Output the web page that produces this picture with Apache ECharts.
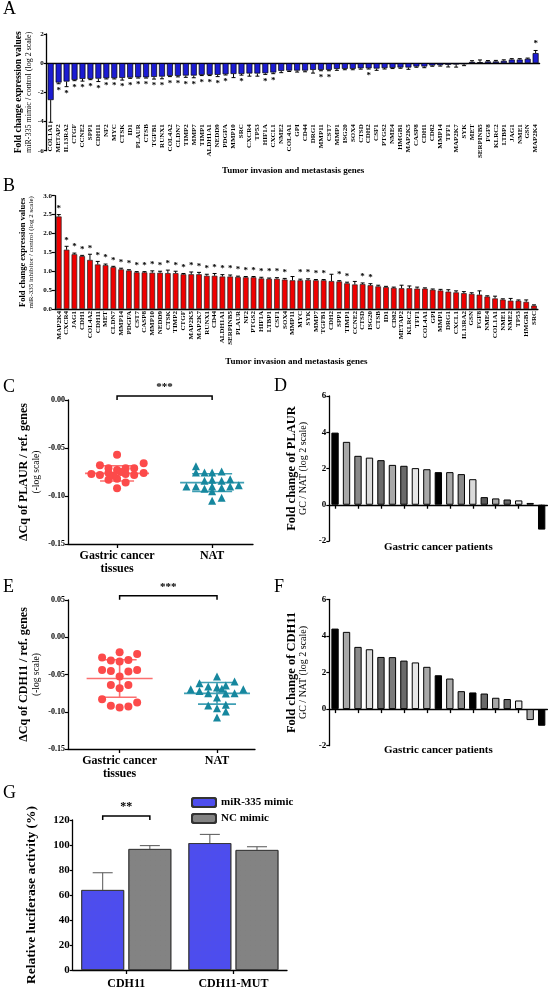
<!DOCTYPE html>
<html><head><meta charset="utf-8">
<script src="https://cdn.jsdelivr.net/npm/echarts@6/dist/echarts.min.js"></script>
<style>html,body{margin:0;padding:0;background:#fff}#c{width:550px;height:989px}</style>
</head><body><div id="c"></div>
<script>
// ---------- Panel A ----------
const genesA = ['COL1A1','METAP2','IL13RA2','CTGF','CCNE2','SPP1','CDH11','NF2','MYC','CTSK','ID1','PLAUR','CTSB','TGFB1','RUNX1','COL4A2','CLDN7','TIMP2','MMP7','TIMP1','ALDH1A1','NEDD9','PDGFA','MMP10','SRC','CXCR4','TP53','HIF1A','CXCL1','NME2','COL4A1','GPI','CD44','DRG1','MMP11','CST7','MMP1','ISG20','SOX4','CTSD','CDH2','CSF1','PTGS2','NME4','HMGB1','MAP2K5','CASP8','CDH1','CD82','MMP14','TFF1','MAP2K7','SYK','MET','SERPINB5','FGF8','KLRC2','LTBP1','JAG1','NME1','GSN','MAP2K4'];
const valuesA = [-2.53,-1.33,-1.26,-1.15,-1.08,-1.08,-1.06,-1.03,-1.03,-1.01,-0.99,-0.97,-0.97,-0.94,-0.92,-0.87,-0.87,-0.85,-0.85,-0.80,-0.80,-0.80,-0.76,-0.74,-0.74,-0.71,-0.71,-0.69,-0.64,-0.53,-0.51,-0.51,-0.51,-0.46,-0.46,-0.46,-0.39,-0.39,-0.39,-0.35,-0.35,-0.37,-0.34,-0.32,-0.30,-0.30,-0.23,-0.23,-0.16,-0.14,-0.11,-0.09,-0.07,0.09,0.07,0.12,0.12,0.16,0.25,0.25,0.30,0.69];
const errorsA = [1.52,0.08,0.35,0.05,0.15,0.05,0.20,0.05,0.05,0.15,0.05,0.05,0.05,0.15,0.15,0.05,0.07,0.12,0.15,0.05,0.05,0.12,0.05,0.25,0.08,0.18,0.18,0.08,0.08,0.12,0.06,0.10,0.08,0.22,0.06,0.06,0.10,0.06,0.06,0.06,0.05,0.12,0.06,0.05,0.05,0.12,0.05,0.08,0.05,0.06,0.15,0.18,0.10,0.08,0.15,0.06,0.07,0.07,0.06,0.06,0.05,0.18];
const starsA = [0,1,1,1,1,1,1,1,1,1,1,1,1,1,1,1,1,1,1,1,1,1,1,0,1,0,0,1,1,0,0,0,0,0,1,1,0,0,0,0,1,0,0,0,0,0,0,0,0,0,0,0,0,0,0,0,0,0,0,0,0,1];

// ---------- Panel B ----------
const genesB = ['MAP2K4','CXCR4','JAG1','CDH1','COL4A2','CDH11','MET','CLDN7','MMP14','PDGFA','CST7','CASP8','MMP10','NEDD9','CTSK','TIMP2','CTGF','MAP2K5','MAP2K7','RUNX1','CD44','ALDH1A1','SERPINB5','PLAUR','NF2','PTGS2','HIF1A','LTBP1','CSF1','SOX4','MMP11','MYC','SYK','MMP7','TGFB1','CDH2','SPP1','TIMP1','CCNE2','CTSD','ISG20','CTSB','ID1','CD82','METAP2','KLRC2','TFF1','COL4A1','GPI','MMP1','DRG1','CXCL1','IL13RA2','GSN','FGF8','NME4','COL1A1','NME1','NME2','TP53','HMGB1','SRC'];
const valuesB = [2.45,1.57,1.45,1.40,1.30,1.18,1.16,1.11,1.05,1.02,0.97,0.97,0.96,0.96,0.95,0.95,0.92,0.92,0.92,0.88,0.88,0.86,0.86,0.85,0.84,0.84,0.81,0.80,0.80,0.78,0.76,0.76,0.77,0.76,0.76,0.74,0.73,0.68,0.65,0.66,0.63,0.60,0.58,0.56,0.55,0.55,0.54,0.54,0.51,0.49,0.46,0.44,0.42,0.40,0.38,0.33,0.28,0.25,0.22,0.22,0.19,0.09];
const errorsB = [0.05,0.09,0.03,0.02,0.15,0.08,0.03,0.02,0.03,0.02,0.02,0.02,0.05,0.04,0.08,0.05,0.02,0.06,0.05,0.04,0.06,0.05,0.04,0.02,0.02,0.02,0.03,0.02,0.03,0.03,0.10,0.03,0.03,0.02,0.02,0.18,0.02,0.03,0.08,0.03,0.04,0.03,0.02,0.02,0.08,0.06,0.04,0.02,0.02,0.03,0.05,0.04,0.04,0.03,0.10,0.02,0.06,0.02,0.06,0.02,0.05,0.02];
const starsB = [1,1,1,1,1,1,1,1,1,1,1,1,1,1,1,1,1,1,1,1,1,1,1,1,1,1,1,1,1,1,0,1,1,1,1,0,1,1,0,1,1,0,0,0,0,0,0,0,0,0,0,0,0,0,0,0,0,0,0,0,0,0];

// ---------- Panel C (PLAUR dCq) ----------
const groupCats = ['Gastric cancer\ntissues', 'NAT'];
const gcPLAUR = [[1.00,-0.057],[0.82,-0.068],[1.28,-0.066],[0.91,-0.071],[1.09,-0.071],[1.18,-0.071],[1.00,-0.073],[0.73,-0.077],[0.82,-0.078],[0.91,-0.076],[1.09,-0.077],[1.18,-0.078],[1.28,-0.076],[0.91,-0.083],[1.00,-0.082],[1.09,-0.086],[1.00,-0.092],[0.96,-0.079],[1.04,-0.075]];
const natPLAUR = [[1.83,-0.069],[1.83,-0.0755],[1.92,-0.0755],[2.00,-0.0755],[2.10,-0.0745],[1.92,-0.084],[2.00,-0.083],[2.10,-0.084],[2.19,-0.0826],[1.73,-0.090],[1.83,-0.090],[1.92,-0.0924],[2.00,-0.090],[2.10,-0.0913],[2.19,-0.090],[2.28,-0.0889],[2.00,-0.0951],[2.00,-0.1049],[2.10,-0.1017]];
const statsPLAUR = [[1, -0.0764, 0.0079], [2, -0.0861, 0.0092]]; // [group, mean, sd]
const sigC = [[1, 2, 0.0042]];
const sigCLabel = ['***'];

// ---------- Panel D (PLAUR fold change per patient) ----------
const patientsD = ['1','2','3','4','5','6','7','8','9','10','11','12','13','14','15','16','17','18','19'];
const valuesD = [3.98,3.47,2.70,2.60,2.46,2.20,2.15,2.02,1.96,1.80,1.80,1.69,1.41,0.42,0.35,0.29,0.24,0.10,-1.37];

// ---------- Panel E (CDH11 dCq) ----------
const gcCDH11 = [[1.00,-0.0201],[1.18,-0.0224],[0.82,-0.0273],[0.91,-0.0313],[1.00,-0.0327],[1.09,-0.0304],[0.82,-0.0438],[0.91,-0.0452],[1.09,-0.046],[1.18,-0.0438],[1.00,-0.0528],[0.91,-0.064],[1.09,-0.064],[1.00,-0.0684],[0.82,-0.0831],[1.18,-0.0876],[0.91,-0.0921],[1.00,-0.0943],[1.09,-0.093]];
const natCDH11 = [[2.00,-0.0528],[1.82,-0.0617],[2.18,-0.0595],[1.73,-0.0697],[1.91,-0.0662],[2.00,-0.0675],[2.05,-0.069],[2.09,-0.0649],[2.27,-0.0697],[1.82,-0.072],[1.91,-0.0751],[2.09,-0.0755],[2.18,-0.0751],[2.00,-0.081],[1.91,-0.0917],[2.09,-0.0907],[2.00,-0.0952],[2.09,-0.0997],[2.00,-0.1078]];
const statsCDH11 = [[1, -0.0554, 0.0252], [2, -0.0753, 0.0145]];
const sigE = [[1, 2, 0.0556]];
const sigELabel = ['***'];

// ---------- Panel F (CDH11 fold change per patient) ----------
const patientsF = ['1','2','3','4','5','6','7','8','9','10','11','12','13','14','15','16','17','18','19'];
const valuesF = [4.40,4.22,3.40,3.27,2.85,2.84,2.65,2.55,2.31,1.85,1.67,0.98,0.91,0.85,0.62,0.55,0.47,-0.60,-0.91];

// ---------- Panel G (luciferase) ----------
const constructsG = ['CDH11', 'CDH11-MUT'];
const mimicG = [64.0, 101.5];
const mimicErrG = [13.8, 7.0];
const ncG = [96.8, 96.0];
const ncErrG = [2.7, 2.6];
const sigG = [[0, 123.2]];
const sigGLabel = ['**'];

// ---------- styles ----------
const SERIF = '"Liberation Serif","DejaVu Serif",serif';
const shadesD = ['#000','#a8a8a8','#8a8a8a','#dadada','#6a6a6a','#a8a8a8','#6a6a6a','#e6e6e6','#a8a8a8','#000','#a8a8a8','#8a8a8a','#dadada','#5a5a5a','#a8a8a8','#6a6a6a','#e6e6e6','#a8a8a8','#000'];
const shadesF = ['#000','#a8a8a8','#8a8a8a','#dadada','#6a6a6a','#7a7a7a','#6a6a6a','#e6e6e6','#a8a8a8','#000','#a8a8a8','#8a8a8a','#000','#6a6a6a','#a8a8a8','#6a6a6a','#e6e6e6','#a8a8a8','#000'];

const chart = echarts.init(document.getElementById('c'), null, {renderer: 'canvas'});

const axLine = {lineStyle: {color: '#000', width: 1.3}};
function yAxis(grid, min, max, interval, fs, name, gap, rich, fmt) {
  return {
    type: 'value', gridIndex: grid, min, max, interval,
    axisLine: {show: true, onZero: false, ...axLine},
    axisTick: {show: true, length: 3, lineStyle: {color: '#000', width: 1.2}},
    splitLine: {show: false},
    axisLabel: {fontFamily: SERIF, fontWeight: 'bold', fontSize: fs, color: '#000', margin: 3, formatter: fmt},
    name, nameLocation: 'middle', nameRotate: 90, nameGap: gap, nameMoveOverlap: false,
    nameTextStyle: {fontFamily: SERIF, color: '#000', rich, align: 'center'}
  };
}

function errBar(cap, color, offsetFrac) {
  return function (params, api) {
    const x = api.value(0), v = api.value(1), e = api.value(2);
    const end = v >= 0 ? v + e : v - e;
    const off = offsetFrac ? api.size([1, 0])[0] * offsetFrac : 0;
    const p0 = api.coord([x, v]), p1 = api.coord([x, end]);
    return {type: 'group', children: [
      {type: 'line', shape: {x1: p0[0] + off, y1: p0[1], x2: p1[0] + off, y2: p1[1]}, style: {stroke: color, lineWidth: 1}},
      {type: 'line', shape: {x1: p1[0] + off - cap, y1: p1[1], x2: p1[0] + off + cap, y2: p1[1]}, style: {stroke: color, lineWidth: 1}}
    ]};
  };
}
function starItem(dist, fs) {
  return function (params, api) {
    const x = api.value(0), v = api.value(1), e = api.value(2);
    const end = v >= 0 ? v + e : v - e;
    const p = api.coord([x, end]);
    const dir = v >= 0 ? -1 : 1;
    return {type: 'text', x: p[0], y: p[1] + dir * dist,
      style: {text: '*', fill: '#000', font: 'bold ' + fs + 'px ' + SERIF, align: 'center', verticalAlign: 'middle'}};
  };
}
function meanSd(halfMean, halfSd, color) {
  return function (params, api) {
    const x = api.value(0), m = api.value(1), s = api.value(2);
    const pm = api.coord([x, m]), pt = api.coord([x, m + s]), pb = api.coord([x, m - s]);
    const st = {stroke: color, lineWidth: 1.6};
    return {type: 'group', children: [
      {type: 'line', shape: {x1: pm[0] - halfMean, y1: pm[1], x2: pm[0] + halfMean, y2: pm[1]}, style: st},
      {type: 'line', shape: {x1: pt[0] - halfSd, y1: pt[1], x2: pt[0] + halfSd, y2: pt[1]}, style: st},
      {type: 'line', shape: {x1: pb[0] - halfSd, y1: pb[1], x2: pb[0] + halfSd, y2: pb[1]}, style: st},
      {type: 'line', shape: {x1: pt[0], y1: pt[1], x2: pb[0], y2: pb[1]}, style: st}
    ]};
  };
}
function bracket(labels, fs, halfFrac) {
  return function (params, api) {
    let a, b;
    if (halfFrac) {
      const c = api.coord([api.value(0), api.value(1)]);
      const h = api.size([1, 0])[0] * halfFrac;
      a = [c[0] - h, c[1]]; b = [c[0] + h, c[1]];
    } else {
      a = api.coord([api.value(0), api.value(2)]);
      b = api.coord([api.value(1), api.value(2)]);
    }
    return {type: 'group', children: [
      {type: 'polyline', shape: {points: [[a[0], a[1] + 4], a, b, [b[0], b[1] + 4]]}, style: {stroke: '#000', lineWidth: 1.5, fill: null}},
      {type: 'text', x: (a[0] + b[0]) / 2, y: a[1] - 3,
        style: {text: labels[params.dataIndex], fill: '#000', font: 'bold ' + fs + 'px ' + SERIF, align: 'center', verticalAlign: 'bottom'}}
    ]};
  };
}

const idx = (arr, vals, errs) => arr.map((_, i) => [i, vals[i], errs[i]]);

const option = {
  animation: false,
  backgroundColor: '#fff',
  title: [
    ['A', 3, 0], ['B', 3, 177], ['C', 3, 378], ['D', 274, 377], ['E', 3, 578], ['F', 274, 578], ['G', 3, 784]
  ].map(t => ({text: t[0], left: t[1], top: t[2], padding: 0, textStyle: {fontFamily: SERIF, fontWeight: 'normal', fontSize: 18, color: '#000'}})),
  legend: {
    data: ['miR-335 mimic', 'NC mimic'], orient: 'vertical', left: 191, top: 797, itemWidth: 24, itemHeight: 9, itemGap: 5, padding: 0,
    textStyle: {fontFamily: SERIF, fontWeight: 'bold', fontSize: 11, color: '#000'}
  },
  grid: [
    {left: 46.7, right: 10.4, top: 34, height: 116.7},
    {left: 54.9, right: 12.1, top: 195.7, height: 113.3},
    {left: 68, width: 185, top: 400, height: 144},
    {left: 329.3, right: 2.6, top: 396, height: 145},
    {left: 68, width: 187, top: 600, height: 149},
    {left: 329.3, right: 2.6, top: 599.3, height: 146.4},
    {left: 72.7, width: 214.3, top: 820, height: 150}
  ].map(g => ({...g, containLabel: false, outerBoundsMode: 'none'})),
  xAxis: [
    // A: zero line only
    {type: 'category', gridIndex: 0, data: genesA, axisLine: {onZero: true, ...axLine}, axisTick: {show: false}, axisLabel: {show: false}},
    {type: 'category', gridIndex: 1, data: genesB, axisLine: {onZero: true, ...axLine}, axisTick: {show: false},
      axisLabel: {interval: 0, rotate: 90, margin: 2, fontFamily: SERIF, fontWeight: 'bold', fontSize: 7, color: '#000'},
      name: 'Tumor invasion and metastasis genes', nameLocation: 'middle', nameGap: 48, nameMoveOverlap: false,
      nameTextStyle: {fontFamily: SERIF, fontWeight: 'bold', fontSize: 9, color: '#000'}},
    {type: 'value', gridIndex: 2, min: 0.484, max: 2.43, axisLine: {onZero: false, ...axLine}, splitLine: {show: false},
      axisTick: {show: true, customValues: [1, 2], length: 4, lineStyle: {color: '#000', width: 1.3}},
      axisLabel: {customValues: [1, 2], formatter: v => groupCats[Math.round(v) - 1], fontFamily: SERIF, fontWeight: 'bold', fontSize: 12, lineHeight: 13, color: '#000', margin: 5}},
    {type: 'category', gridIndex: 3, data: patientsD, axisLine: {onZero: true, ...axLine},
      axisTick: {show: true, alignWithLabel: true, length: 4, lineStyle: {color: '#000', width: 1.3}}, axisLabel: {show: false},
      name: 'Gastric cancer patients', nameLocation: 'middle', nameGap: 0.5, nameMoveOverlap: false,
      nameTextStyle: {fontFamily: SERIF, fontWeight: 'bold', fontSize: 11, color: '#000'}},
    {type: 'value', gridIndex: 4, min: 0.47, max: 2.39, axisLine: {onZero: false, ...axLine}, splitLine: {show: false},
      axisTick: {show: true, customValues: [1, 2], length: 4, lineStyle: {color: '#000', width: 1.3}},
      axisLabel: {customValues: [1, 2], formatter: v => groupCats[Math.round(v) - 1], fontFamily: SERIF, fontWeight: 'bold', fontSize: 12, lineHeight: 13, color: '#000', margin: 5}},
    {type: 'category', gridIndex: 5, data: patientsF, axisLine: {onZero: true, ...axLine},
      axisTick: {show: true, alignWithLabel: true, length: 4, lineStyle: {color: '#000', width: 1.3}}, axisLabel: {show: false},
      name: 'Gastric cancer patients', nameLocation: 'middle', nameGap: -1, nameMoveOverlap: false,
      nameTextStyle: {fontFamily: SERIF, fontWeight: 'bold', fontSize: 11, color: '#000'}},
    {type: 'category', gridIndex: 6, data: constructsG, axisLine: {onZero: false, ...axLine},
      axisTick: {show: true, alignWithLabel: true, length: 4, lineStyle: {color: '#000', width: 1.3}},
      axisLabel: {fontFamily: SERIF, fontWeight: 'bold', fontSize: 12, color: '#000', margin: 8}},
    // A: gene labels at the grid bottom, pulled up
    {type: 'category', gridIndex: 0, data: genesA, position: 'bottom', axisLine: {show: false, onZero: false}, axisTick: {show: false},
      axisLabel: {interval: 0, rotate: 90, margin: -26.5, fontFamily: SERIF, fontWeight: 'bold', fontSize: 7, color: '#000'},
      name: 'Tumor invasion and metastasis genes', nameLocation: 'middle', nameGap: 15, nameMoveOverlap: false,
      nameTextStyle: {fontFamily: SERIF, fontWeight: 'bold', fontSize: 9, color: '#000'}}
  ],
  yAxis: [
    yAxis(0, -6, 2, 2, 7, '{b|Fold change expression values}\n{n|miR-335 mimic / control (log 2 scale)}', 13,
      {b: {fontFamily: SERIF, fontWeight: 'bold', fontSize: 9.5, lineHeight: 10}, n: {fontFamily: SERIF, fontSize: 8, lineHeight: 10}}),
    yAxis(1, 0, 3, 0.5, 7, '{b|Fold change expression values}\n{n|miR-335 inhibitor / control (log 2 scale)}', 19,
      {b: {fontFamily: SERIF, fontWeight: 'bold', fontSize: 8.5, lineHeight: 9}, n: {fontFamily: SERIF, fontSize: 7, lineHeight: 9}}, v => v.toFixed(1)),
    yAxis(2, -0.15, 0, 0.05, 8, '{b|ΔCq of PLAUR / ref. genes}\n{n|(-log scale)}', 25,
      {b: {fontFamily: SERIF, fontWeight: 'bold', fontSize: 12, lineHeight: 13}, n: {fontFamily: SERIF, fontSize: 9.5, lineHeight: 13}}, v => v.toFixed(2)),
    yAxis(3, -2, 6, 2, 9, '{b|Fold change of PLAUR}\n{n|GC / NAT (log 2 scale)}', 20,
      {b: {fontFamily: SERIF, fontWeight: 'bold', fontSize: 12.5, lineHeight: 12}, n: {fontFamily: SERIF, fontSize: 10, lineHeight: 12}}),
    yAxis(4, -0.15, 0.05, 0.05, 8, '{b|ΔCq of CDH11 / ref. genes}\n{n|(-log scale)}', 25,
      {b: {fontFamily: SERIF, fontWeight: 'bold', fontSize: 12, lineHeight: 13}, n: {fontFamily: SERIF, fontSize: 9.5, lineHeight: 13}}, v => v.toFixed(2)),
    yAxis(5, -2, 6, 2, 9, '{b|Fold change of CDH11}\n{n|GC / NAT (log 2 scale)}', 20,
      {b: {fontFamily: SERIF, fontWeight: 'bold', fontSize: 12.5, lineHeight: 12}, n: {fontFamily: SERIF, fontSize: 10, lineHeight: 12}}),
    yAxis(6, 0, 120, 20, 11, '{b|Relative luciferase activity (%)}', 34,
      {b: {fontFamily: SERIF, fontWeight: 'bold', fontSize: 13.5, lineHeight: 14}})
  ],
  series: [
    // A
    {type: 'bar', xAxisIndex: 0, yAxisIndex: 0, data: valuesA, barWidth: '75%',
      itemStyle: {color: '#1c1cd2', borderColor: '#000', borderWidth: 0.7}},
    {type: 'custom', xAxisIndex: 0, yAxisIndex: 0, renderItem: errBar(2, '#000'), data: idx(genesA, valuesA, errorsA), clip: false, z: 3},
    {type: 'custom', xAxisIndex: 0, yAxisIndex: 0, renderItem: starItem(7, 9),
      data: idx(genesA, valuesA, errorsA).filter((d, i) => starsA[i]), clip: false, z: 3},
    // B
    {type: 'bar', xAxisIndex: 1, yAxisIndex: 1, data: valuesB, barWidth: '72%',
      itemStyle: {color: '#f00000', borderColor: '#222', borderWidth: 0.7}},
    {type: 'custom', xAxisIndex: 1, yAxisIndex: 1, renderItem: errBar(2, '#000'), data: idx(genesB, valuesB, errorsB), clip: false, z: 3},
    {type: 'custom', xAxisIndex: 1, yAxisIndex: 1, renderItem: starItem(6, 9),
      data: idx(genesB, valuesB, errorsB).filter((d, i) => starsB[i]), clip: false, z: 3},
    // C
    {type: 'custom', xAxisIndex: 2, yAxisIndex: 2, renderItem: meanSd(32, 17, '#fb6f6f'), data: [statsPLAUR[0]], z: 1},
    {type: 'custom', xAxisIndex: 2, yAxisIndex: 2, renderItem: meanSd(32, 20, '#3f9fb4'), data: [statsPLAUR[1]], z: 1},
    {type: 'scatter', xAxisIndex: 2, yAxisIndex: 2, data: gcPLAUR, symbol: 'circle', symbolSize: 8, itemStyle: {color: '#fc4a4a', opacity: 1}, z: 2},
    {type: 'scatter', xAxisIndex: 2, yAxisIndex: 2, data: natPLAUR, symbol: 'triangle', symbolSize: 8, itemStyle: {color: '#16879e', opacity: 1}, z: 2},
    {type: 'custom', xAxisIndex: 2, yAxisIndex: 2, renderItem: bracket(sigCLabel, 11), data: sigC, clip: false},
    // D
    {type: 'bar', xAxisIndex: 3, yAxisIndex: 3, barWidth: '64%',
      data: valuesD.map((v, i) => ({value: v, itemStyle: {color: shadesD[i]}})), itemStyle: {borderColor: '#000', borderWidth: 1}},
    // E
    {type: 'custom', xAxisIndex: 4, yAxisIndex: 4, renderItem: meanSd(33, 17, '#fb6f6f'), data: [statsCDH11[0]], z: 1},
    {type: 'custom', xAxisIndex: 4, yAxisIndex: 4, renderItem: meanSd(33, 19, '#3f9fb4'), data: [statsCDH11[1]], z: 1},
    {type: 'scatter', xAxisIndex: 4, yAxisIndex: 4, data: gcCDH11, symbol: 'circle', symbolSize: 8, itemStyle: {color: '#fc4a4a', opacity: 1}, z: 2},
    {type: 'scatter', xAxisIndex: 4, yAxisIndex: 4, data: natCDH11, symbol: 'triangle', symbolSize: 8, itemStyle: {color: '#16879e', opacity: 1}, z: 2},
    {type: 'custom', xAxisIndex: 4, yAxisIndex: 4, renderItem: bracket(sigELabel, 11), data: sigE, clip: false},
    // F
    {type: 'bar', xAxisIndex: 5, yAxisIndex: 5, barWidth: '64%',
      data: valuesF.map((v, i) => ({value: v, itemStyle: {color: shadesF[i]}})), itemStyle: {borderColor: '#000', borderWidth: 1}},
    // G
    {type: 'bar', name: 'miR-335 mimic', xAxisIndex: 6, yAxisIndex: 6, data: mimicG, barWidth: '40%', barGap: '10%',
      itemStyle: {color: '#4d4dee', borderColor: '#333', borderWidth: 0.8,
        decal: {symbol: 'circle', symbolSize: 0.35, color: 'rgba(150,140,90,0.55)', dashArrayX: [[1, 4]], dashArrayY: [1, 4], rotation: 0}}},
    {type: 'bar', name: 'NC mimic', xAxisIndex: 6, yAxisIndex: 6, data: ncG, barWidth: '40%', barGap: '10%',
      itemStyle: {color: '#838383', borderColor: '#333', borderWidth: 0.8,
        decal: {symbol: 'circle', symbolSize: 0.35, color: 'rgba(110,110,100,0.6)', dashArrayX: [[1, 4]], dashArrayY: [1, 4], rotation: 0}}},
    {type: 'custom', xAxisIndex: 6, yAxisIndex: 6, renderItem: errBar(10, '#555', -0.22), data: idx(constructsG, mimicG, mimicErrG), clip: false, z: 3},
    {type: 'custom', xAxisIndex: 6, yAxisIndex: 6, renderItem: errBar(10, '#555', 0.22), data: idx(constructsG, ncG, ncErrG), clip: false, z: 3},
    {type: 'custom', xAxisIndex: 6, yAxisIndex: 6, renderItem: bracket(sigGLabel, 12, 0.22), data: sigG, clip: false}
  ]
};
chart.setOption(option);
</script>
</body></html>
